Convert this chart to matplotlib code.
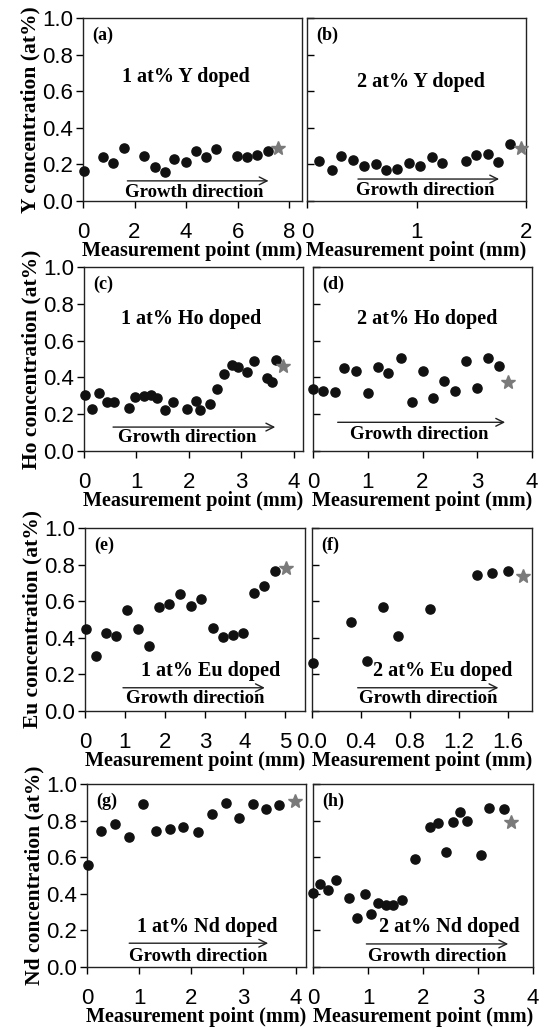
import numpy as np
import matplotlib as mpl
import matplotlib.pyplot as plt

mpl.rcParams['font.family'] = ['Liberation Sans', 'DejaVu Sans']
mpl.rcParams['axes.linewidth'] = 1.0

SERIF = ['Liberation Serif', 'DejaVu Serif']

# ---- data ----
y1_x = [0.03, 0.77, 1.18, 1.60, 2.38, 2.78, 3.17, 3.55, 3.99, 4.39, 4.78, 5.17, 5.97, 6.37, 6.77, 7.17]
y1_c = [0.165, 0.24, 0.21, 0.287, 0.245, 0.187, 0.16, 0.227, 0.214, 0.274, 0.241, 0.283, 0.245, 0.241, 0.25, 0.274]
y1_star = (7.55, 0.29)

y2_x = [0.11, 0.23, 0.31, 0.42, 0.52, 0.63, 0.72, 0.82, 0.93, 1.03, 1.14, 1.23, 1.45, 1.54, 1.65, 1.74, 1.85]
y2_c = [0.218, 0.169, 0.245, 0.224, 0.193, 0.20, 0.169, 0.173, 0.209, 0.193, 0.242, 0.205, 0.218, 0.249, 0.256, 0.215, 0.309]
y2_star = (1.95, 0.291)

ho1_x = [0.01, 0.16, 0.28, 0.43, 0.57, 0.85, 0.98, 1.14, 1.27, 1.40, 1.55, 1.69, 1.97, 2.13, 2.21, 2.40,
         2.54, 2.67, 2.83, 2.93, 3.11, 3.24, 3.50, 3.58, 3.67]
ho1_c = [0.307, 0.227, 0.313, 0.267, 0.267, 0.231, 0.295, 0.30, 0.307, 0.289, 0.222, 0.267, 0.229, 0.273, 0.225, 0.255,
         0.335, 0.416, 0.467, 0.455, 0.427, 0.489, 0.395, 0.377, 0.495]
ho1_star = (3.80, 0.462)

ho2_x = [0.0, 0.19, 0.40, 0.57, 0.79, 1.0, 1.18, 1.37, 1.61, 1.80, 2.0, 2.19, 2.39, 2.59, 2.80, 3.0, 3.19, 3.39]
ho2_c = [0.336, 0.327, 0.318, 0.449, 0.436, 0.313, 0.455, 0.425, 0.504, 0.264, 0.436, 0.289, 0.38, 0.327, 0.491, 0.345, 0.504, 0.464]
ho2_star = (3.57, 0.376)

eu1_x = [0.02, 0.28, 0.53, 0.78, 1.06, 1.32, 1.60, 1.86, 2.11, 2.38, 2.65, 2.90, 3.19, 3.44, 3.71, 3.96, 4.22, 4.48, 4.75]
eu1_c = [0.447, 0.299, 0.426, 0.408, 0.553, 0.447, 0.353, 0.571, 0.587, 0.638, 0.574, 0.61, 0.451, 0.406, 0.415, 0.424, 0.646, 0.684, 0.765]
eu1_star = (5.03, 0.78)

eu2_x = [0.005, 0.32, 0.447, 0.58, 0.70, 0.967, 1.35, 1.47, 1.60]
eu2_c = [0.264, 0.484, 0.275, 0.569, 0.409, 0.556, 0.742, 0.755, 0.764]
eu2_star = (1.73, 0.738)

nd1_x = [0.01, 0.27, 0.53, 0.80, 1.07, 1.32, 1.60, 1.85, 2.13, 2.39, 2.66, 2.92, 3.19, 3.43, 3.69]
nd1_c = [0.555, 0.745, 0.78, 0.709, 0.889, 0.745, 0.755, 0.767, 0.74, 0.835, 0.895, 0.816, 0.891, 0.862, 0.883]
nd1_star = (3.99, 0.907)

nd2_x = [0.0, 0.13, 0.27, 0.41, 0.65, 0.80, 0.94, 1.06, 1.19, 1.32, 1.46, 1.61, 1.85, 2.13, 2.27, 2.41,
         2.54, 2.67, 2.80, 3.05, 3.20, 3.47]
nd2_c = [0.407, 0.456, 0.423, 0.474, 0.376, 0.266, 0.401, 0.288, 0.347, 0.339, 0.338, 0.365, 0.591, 0.763, 0.788, 0.631,
         0.794, 0.849, 0.799, 0.613, 0.869, 0.863]
nd2_star = (3.60, 0.794)

elements = ['Y', 'Ho', 'Eu', 'Nd']
panel_tags = ['(a)', '(b)', '(c)', '(d)', '(e)', '(f)', '(g)', '(h)']

W, H = 546, 1027
fig = plt.figure(figsize=(W / 100, H / 100), dpi=100)


def add_ax(x0, x1, ytop, ybot):
    return fig.add_axes([x0 / W, 1 - ybot / H, (x1 - x0) / W, (ybot - ytop) / H])


# pixel boxes (left, right, top, bottom)
boxes = [(83, 302, 18, 201), (307, 526, 18, 201),
         (84, 303, 267, 451), (313, 532, 267, 451),
         (85, 305, 528, 711), (312, 532, 528, 711),
         (87, 306, 784, 967), (313, 533, 784, 967)]

panels = [
    (y1_x, y1_c, y1_star, (0, 8.5), [0, 2, 4, 6, 8], '1 at% Y doped', (0.47, 0.68), (0.19, 0.86, 0.11), (0.51, 0.045)),
    (y2_x, y2_c, y2_star, (0, 2), [0, 1, 2], '2 at% Y doped', (0.52, 0.65), (0.22, 0.89, 0.12), (0.54, 0.056)),
    (ho1_x, ho1_c, ho1_star, (0, 4.18), [0, 1, 2, 3, 4], '1 at% Ho doped', (0.49, 0.72), (0.12, 0.886, 0.13), (0.47, 0.072)),
    (ho2_x, ho2_c, ho2_star, (0, 4), [0, 1, 2, 3, 4], '2 at% Ho doped', (0.52, 0.72), (0.10, 0.89, 0.156), (0.485, 0.09)),
    (eu1_x, eu1_c, eu1_star, (0, 5.5), [0, 1, 2, 3, 4, 5], '1 at% Eu doped', (0.57, 0.22), (0.16, 0.83, 0.127), (0.50, 0.066)),
    (eu2_x, eu2_c, eu2_star, (0, 1.8), [0.0, 0.4, 0.8, 1.2, 1.6], '2 at% Eu doped', (0.595, 0.22), (0.195, 0.86, 0.127), (0.527, 0.066)),
    (nd1_x, nd1_c, nd1_star, (0, 4.2), [0, 1, 2, 3, 4], '1 at% Nd doped', (0.55, 0.22), (0.18, 0.84, 0.13), (0.51, 0.056)),
    (nd2_x, nd2_c, nd2_star, (0, 4), [0, 1, 2, 3, 4], '2 at% Nd doped', (0.62, 0.22), (0.23, 0.90, 0.126), (0.567, 0.056)),
]

for i, (xs, ys, star, xlim, xticks, note, note_pos, arr, grow_pos) in enumerate(panels):
    ax = add_ax(*boxes[i])
    left = i % 2 == 0
    ax.plot(xs, ys, 'o', color='#111111', ms=6.6, clip_on=False, zorder=3)
    ax.plot([star[0]], [star[1]], '*', color='#7a7a7a', ms=10, clip_on=False, zorder=3)
    ax.set_xlim(*xlim)
    ax.set_ylim(0, 1)
    ax.set_yticks(np.arange(0, 1.01, 0.2))
    ax.set_xticks(xticks)
    if i == 5:
        ax.set_xticklabels(['%.1f' % t for t in xticks])
    else:
        ax.set_xticklabels([str(int(t)) for t in xticks])
    if left:
        ax.set_yticklabels(['%.1f' % t for t in np.arange(0, 1.01, 0.2)])
        ax.tick_params(axis='y', direction='out', length=5, width=1, labelsize=16, pad=2)
        ax.set_ylabel(elements[i // 2] + ' concentration (at%)', family=SERIF, fontweight='bold',
                      fontsize=15.5, labelpad=1)
    else:
        ax.set_yticklabels([])
        ax.tick_params(axis='y', direction='in', length=5, width=1)
    ax.tick_params(axis='x', direction='out', length=5, width=1, labelsize=16, pad=10)
    ax.set_xlabel('Measurement point (mm)', family=SERIF, fontweight='bold', fontsize=14.5, labelpad=-1)
    for s in ax.spines.values():
        s.set_color('#222222')

    ax.text(0.04, 0.955, panel_tags[i], transform=ax.transAxes, ha='left', va='top',
            family=SERIF, fontweight='bold', fontsize=13)
    ax.text(note_pos[0], note_pos[1], note, transform=ax.transAxes, ha='center', va='center',
            family=SERIF, fontweight='bold', fontsize=14.5)
    ax.annotate('', xy=(arr[1], arr[2]), xytext=(arr[0], arr[2]), xycoords='axes fraction',
                arrowprops=dict(arrowstyle='->', color='#222222', lw=1.0, mutation_scale=14))
    ax.text(grow_pos[0], grow_pos[1], 'Growth direction', transform=ax.transAxes, ha='center', va='center',
            family=SERIF, fontweight='bold', fontsize=13.5)

fig.savefig('out.png', dpi=100)
